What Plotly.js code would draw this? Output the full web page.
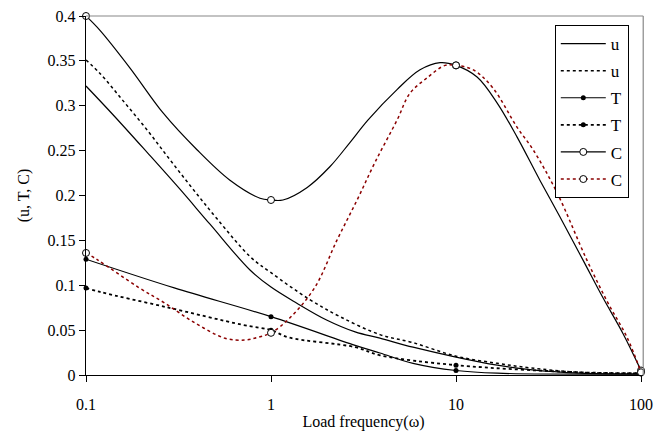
<!DOCTYPE html>
<html>
<head>
<meta charset="utf-8">
<script src="https://cdn.plot.ly/plotly-3.0.1.min.js"></script>
<style>html,body{margin:0;padding:0;background:#fff;}#chart{width:657px;height:437px;}</style>
</head>
<body>
<div id="chart"></div>
<script>
// Load frequency (omega) sample points and values
const uSolidX = [0.1, 0.14, 0.214, 0.322, 0.468, 0.77, 1, 1.38, 2.01, 2.85, 3.88, 5.86, 10, 16.7, 25.1, 46.8, 100];
const uSolidY = [0.322, 0.290, 0.248, 0.207, 0.168, 0.117, 0.098, 0.080, 0.061, 0.048, 0.041, 0.031, 0.020, 0.011, 0.006, 0.002, 0.001];

const uDotX = [0.1, 0.119, 0.158, 0.214, 0.284, 0.379, 0.511, 0.77, 1, 1.62, 2.36, 3.88, 5.86, 10, 16.7, 25.1, 46.8, 100];
const uDotY = [0.351, 0.336, 0.306, 0.273, 0.240, 0.207, 0.174, 0.132, 0.114, 0.084, 0.065, 0.045, 0.036, 0.021, 0.013, 0.008, 0.003, 0.002];

const tSolidX = [0.1, 0.3, 1, 2.85, 3.88, 5.86, 10, 16.7, 100];
const tSolidY = [0.129, 0.097, 0.065, 0.033, 0.0245, 0.013, 0.005, 0.002, 0.001];

const tDotX = [0.1, 0.122, 0.267, 0.697, 1, 1.24, 2.85, 3.88, 10, 46.8, 100];
const tDotY = [0.097, 0.092, 0.076, 0.056, 0.050, 0.042, 0.031, 0.022, 0.011, 0.003, 0.002];

const cSolidX = [0.1, 0.119, 0.173, 0.261, 0.398, 0.6, 0.872, 1, 1.16, 1.57, 2.08, 2.67, 3.34, 4.8, 6.39, 8.2, 10, 13.0, 16.7, 21.4, 28.4, 36.5, 48.6, 62.3, 80.0, 100];
const cSolidY = [0.400, 0.384, 0.342, 0.292, 0.251, 0.217, 0.197, 0.195, 0.195, 0.209, 0.232, 0.259, 0.284, 0.318, 0.340, 0.348, 0.345, 0.332, 0.303, 0.265, 0.217, 0.176, 0.128, 0.086, 0.046, 0.005];

const cDotX = [0.1, 0.116, 0.191, 0.267, 0.388, 0.564, 0.723, 0.851, 1, 1.27, 1.73, 2.27, 2.92, 3.65, 4.8, 5.64, 6.97, 8.73, 10, 12.4, 15.8, 21.4, 26.1, 35.2, 51.0, 66.4, 84.0, 100];
const cDotY = [0.136, 0.128, 0.098, 0.080, 0.058, 0.041, 0.039, 0.042, 0.047, 0.064, 0.098, 0.150, 0.195, 0.237, 0.284, 0.314, 0.331, 0.345, 0.345, 0.340, 0.320, 0.276, 0.251, 0.203, 0.128, 0.080, 0.042, 0.003];

const seriesNames = ['u', 'u', 'T', 'T', 'C', 'C'];
const xTickVals = [0.1, 1, 10, 100];
const xTickText = ['0.1', '1', '10', '100'];

const markerDecades = [0.1, 1, 10, 100];
function isDecade(v) { return markerDecades.some(d => Math.abs(v - d) < 1e-9); }
function markColors(xs, c) { return xs.map(v => isDecade(v) ? c : 'rgba(0,0,0,0)'); }

const FONT = 'Liberation Serif, Times New Roman, serif';

function mk(x, y, i, opts) {
  return Object.assign({
    x: x, y: y, name: seriesNames[i], type: 'scatter',
    legendgroup: 'g' + i,
    line: {shape: 'spline', smoothing: 1, width: 1.2, color: '#000'},
    cliponaxis: false
  }, opts);
}

const traces = [
  mk(uSolidX, uSolidY, 0, {mode: 'lines'}),
  mk(uDotX, uDotY, 1, {mode: 'lines', line: {shape: 'spline', smoothing: 1, width: 1.5, color: '#000', dash: 'dot'}}),
  mk(tSolidX, tSolidY, 2, {mode: 'lines+markers',
    marker: {symbol: 'circle', size: 5, color: markColors(tSolidX, '#000'), line: {width: 0}}}),
  mk(tDotX, tDotY, 3, {mode: 'lines+markers',
    line: {shape: 'spline', smoothing: 1, width: 1.8, color: '#000', dash: 'dot'},
    marker: {symbol: 'circle', size: 5, color: markColors(tDotX, '#000'), line: {width: 0}}}),
  mk(cSolidX, cSolidY, 4, {mode: 'lines+markers',
    marker: {symbol: 'circle', size: 7, color: markColors(cSolidX, '#fff'), line: {color: markColors(cSolidX, '#000'), width: 1}}}),
  mk(cDotX, cDotY, 5, {mode: 'lines+markers',
    line: {shape: 'spline', smoothing: 1, width: 1.5, color: '#8b0000', dash: 'dot'},
    marker: {symbol: 'circle', size: 7, color: markColors(cDotX, '#fff'), line: {color: markColors(cDotX, '#000'), width: 1}}})
];

const layout = {
  width: 657, height: 437,
  margin: {l: 86, r: 16, t: 16, b: 62},
  paper_bgcolor: '#fff', plot_bgcolor: '#fff',
  font: {family: FONT, size: 16, color: '#000'},
  showlegend: true,
  legend: {
    x: 0.978, xanchor: 'right', y: 0.975, yanchor: 'top',
    bgcolor: '#fff', bordercolor: '#000', borderwidth: 1,
    font: {family: FONT, size: 17, color: '#000'},
    traceorder: 'grouped', tracegroupgap: 2, itemwidth: 45
  },
  xaxis: {
    type: 'log', range: [-1, 2],
    tickvals: xTickVals, ticktext: xTickText,
    ticks: 'outside', ticklen: 6, tickcolor: '#000', tickwidth: 1,
    showline: true, linecolor: '#000', linewidth: 1.2,
    showgrid: false, zeroline: false,
    ticklabelstandoff: 9,
    tickfont: {family: FONT, size: 16},
    title: {text: 'Load frequency(ω)', font: {family: FONT, size: 16}, standoff: 3}
  },
  yaxis: {
    range: [0, 0.4], dtick: 0.05, tick0: 0,
    ticks: 'outside', ticklen: 6, tickcolor: '#000', tickwidth: 1,
    showline: true, linecolor: '#000', linewidth: 1.2,
    showgrid: false, zeroline: false,
    tickfont: {family: FONT, size: 16},
    title: {text: '(u, T, C)', font: {family: FONT, size: 16}, standoff: 14}
  },
  shapes: [
    {type: 'line', xref: 'paper', yref: 'paper', x0: 0, x1: 1.004, y0: 1, y1: 1, line: {color: '#888', width: 1.2}},
    {type: 'line', xref: 'paper', yref: 'paper', x0: 1.004, x1: 1.004, y0: 0, y1: 1, line: {color: '#888', width: 1.2}}
  ]
};

Plotly.newPlot('chart', traces, layout, {displayModeBar: false, staticPlot: true});
</script>
</body>
</html>
